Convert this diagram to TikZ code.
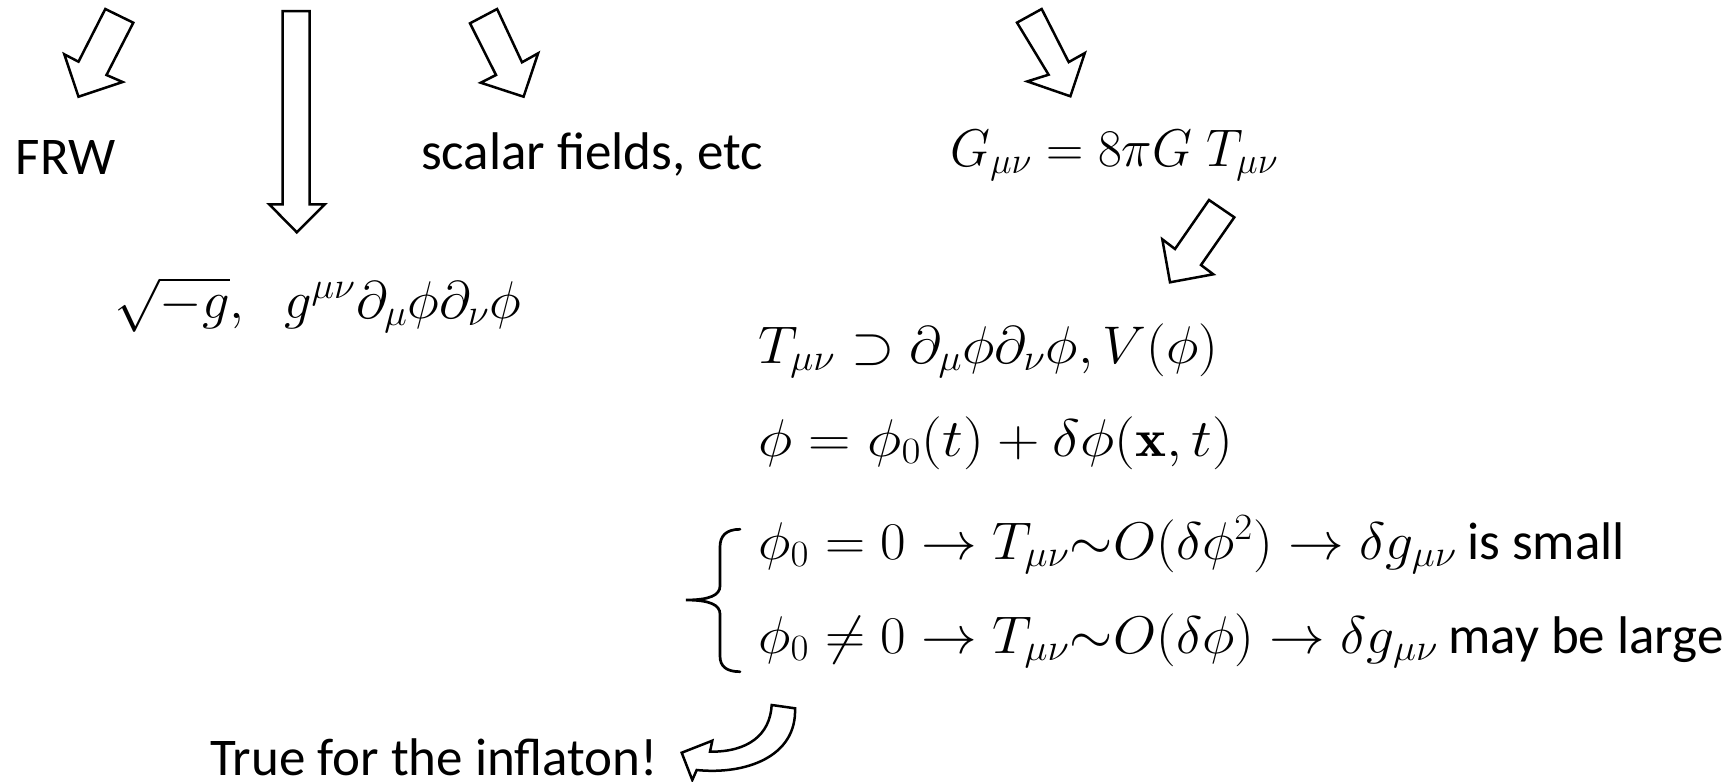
\RequirePackage{fix-cm}
\documentclass[tikz,border=0pt]{standalone}
\usepackage{amsmath}
\usepackage{fontspec}
\newfontfamily\carlito{Carlito}
\newcommand\bigtxt{\fontsize{26.5}{32}\selectfont}
\newcommand\widen[2]{\scalebox{#1}[1]{#2}}
\tikzset{
  txt/.style={anchor=base west, inner sep=0pt, font=\bigtxt\carlito},
  mth/.style={anchor=base west, inner sep=0pt, font=\bigtxt},
  blockarrow/.style={draw, line width=1.25pt, line join=miter, fill=white},
  bracestyle/.style={draw, line width=1.35pt, line cap=round},
}
\begin{document}
\begin{tikzpicture}[x=0.5pt, y=-0.5pt]
\useasboundingbox (0,0) rectangle (1736,782);
% text
\node[txt] (frw) at (15.5,174) {FRW};
\node[txt] (scalar) at (420.7,169.5) {scalar fields, etc};
\node[mth] (einstein) at (950,166) {\widen{0.975}{$G_{\mu\nu} = 8\pi G\;T_{\mu\nu}$}};
\node[mth] (action) at (114,318) {\widen{1.03}{$\sqrt{-g},\;\; g^{\mu\nu}\partial_\mu\phi\partial_\nu\phi$}};
\node[mth] (tmunu) at (758,363) {\widen{1.05}{$T_{\mu\nu} \supset \partial_\mu\phi\partial_\nu\phi, V(\phi)$}};
\node[mth] (split) at (758,456) {\widen{1.11}{$\phi = \phi_0(t) + \delta\phi(\mathbf{x},t)$}};
\node[mth] (caseA) at (758,559) {\widen{1.05}{$\phi_0 = 0 \rightarrow T_{\mu\nu}{\sim}O(\delta\phi^2) \rightarrow \delta g_{\mu\nu}$}\hspace{5pt}{\carlito is small}};
\node[mth] (caseB) at (758,653) {\widen{1.05}{$\phi_0 \neq 0 \rightarrow T_{\mu\nu}{\sim}O(\delta\phi) \rightarrow \delta g_{\mu\nu}$}\hspace{5pt}{\carlito may be large}};
\node[txt] (infl) at (210,775) {True for the inflaton!};
% block arrows
\draw[blockarrow] (105.3,9) -- (133.3,22.7) -- (106.5,75) -- (122.6,82) -- (78.5,96.7) -- (64.3,54.3) -- (78.5,61.7) -- cycle;
\draw[blockarrow] (282.6,11) -- (309.5,11) -- (309.5,204.3) -- (324.8,204.3) -- (296.8,232.3) -- (269.2,204.3) -- (282.6,204.3) -- cycle;
\draw[blockarrow] (470,23.3) -- (497.1,9) -- (522,62.3) -- (538.1,53.3) -- (523.6,96.7) -- (480.7,82.7) -- (496,75) -- cycle;
\draw[blockarrow] (1017,22.6) -- (1041.7,9) -- (1068.7,62.1) -- (1084.8,53.1) -- (1070.4,96.3) -- (1027.3,81.4) -- (1048.6,74.7) -- cycle;
\draw[blockarrow] (1209,200) -- (1234.3,217.3) -- (1201,265) -- (1213.3,274.3) -- (1170,282.3) -- (1162.3,239.3) -- (1175,249) -- cycle;
% curved arrow
\draw[blockarrow] (771.7,705) .. controls (770,735) and (748,752) .. (710,751.7)
  -- (712.3,740.7) -- (681.7,752.7) -- (692.3,780) -- (696.7,770)
  .. controls (745,775) and (797,757) .. (795,708.3) -- cycle;
% brace
\draw[bracestyle] (740,529.3) .. controls (726,529.3) and (720,536) .. (720,547)
  -- (720,586) .. controls (720,595) and (710,600) .. (686,600)
  .. controls (710,600) and (720,605) .. (720,614)
  -- (720,656) .. controls (720,666) and (726,671.7) .. (740,671.7);
\end{tikzpicture}
\end{document}
